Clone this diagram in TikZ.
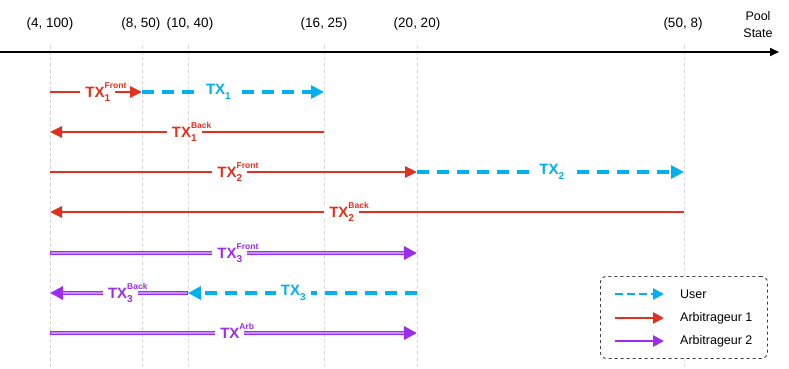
\documentclass[tikz,border=0pt]{standalone}
\usepackage{fontspec}
\setmainfont{Liberation Sans}
\usetikzlibrary{arrows.meta}
\definecolor{rd}{HTML}{E0301E}
\definecolor{bl}{HTML}{00B0F0}
\definecolor{pp}{HTML}{9B2CF0}
\definecolor{ppl}{HTML}{C98DF7}
\definecolor{gl}{HTML}{D9D9D9}
\newcommand\supsub[2]{\smash{\rlap{\raisebox{1.05ex}{\fontsize{8.5}{8.5}\selectfont #2}}\raisebox{-0.55ex}{\fontsize{10}{10}\selectfont #1}}\hspace{1.5pt}}
\newcommand\subonly[1]{\raisebox{-0.55ex}{\fontsize{10}{10}\selectfont #1}}
\newcommand\suponly[1]{\smash{\rlap{\raisebox{1.05ex}{\fontsize{8.5}{8.5}\selectfont #1}}}\hspace{8pt}}
\begin{document}
\begin{tikzpicture}[x=1pt,y=-1pt,
  tick/.style={font=\fontsize{13.5}{15}\selectfont, inner sep=0pt},
  guide/.style={draw=gl, line width=0.9pt, dash pattern=on 4pt off 2pt},
  lab/.style={fill=white, inner xsep=5pt, inner ysep=2pt, font=\fontsize{15}{17}\selectfont\bfseries},
  redarr/.style={draw=rd, line width=2.8pt, -{Triangle[length=12pt,width=11pt]}},
  bluarr/.style={draw=bl, line width=3.2pt, dash pattern=on 12pt off 8pt, -{Triangle[length=13pt,width=13pt]}},
  purarr/.style={draw=pp, line width=4pt, -{Triangle[length=13pt,width=13pt]},
     postaction={draw=ppl, line width=1.4pt, -, shorten >=13pt, shorten <=0.6pt}},
  legtext/.style={font=\fontsize{12.5}{14}\selectfont, anchor=west, inner sep=0pt}
]
\useasboundingbox (0,0) rectangle (789,369);
% axis
\coordinate (ax0) at (0,52);
\coordinate (ax1) at (779,52);
% guide lines
\foreach \n/\x in {a/50,b/142,c/188,d/324,e/417,f/684}{
  \coordinate (g\n t) at (\x,45);
  \coordinate (g\n b) at (\x,369);
  \draw[guide] (g\n t) -- (g\n b);
}
\draw[line width=1.6pt, -{Triangle[length=9pt,width=8pt]}] (ax0) -- (ax1);
% tick labels
\node[tick] (ta) at (50,24) {(4, 100)};
\node[tick] (tb) at (141,24) {(8, 50)};
\node[tick] (tc) at (190,24) {(10, 40)};
\node[tick] (td) at (324,24) {(16, 25)};
\node[tick] (te) at (417,24) {(20, 20)};
\node[tick] (tf) at (683,24) {(50, 8)};
\node[tick, align=center, font=\fontsize{12.5}{17}\selectfont] (pool) at (758,25) {Pool\\State};
% row coordinates
\foreach \r/\y in {1/92,2/132,3/172,4/212,5/253,6/293,7/333}{
  \coordinate (a\r) at (50,\y);
  \coordinate (b\r) at (142,\y);
  \coordinate (c\r) at (188,\y);
  \coordinate (d\r) at (324,\y);
  \coordinate (e\r) at (417,\y);
  \coordinate (f\r) at (684,\y);
}
% row 1
\draw[bluarr] (b1) -- node[lab, text=bl, pos=0.42] (l1u) {TX\subonly{1}} (d1);
\draw[redarr] (a1) -- node[lab, text=rd, pos=0.52] (l1f) {TX\supsub{1}{Front}} (b1);
% row 2
\draw[redarr] (d2) -- node[lab, text=rd, pos=0.51] (l1b) {TX\supsub{1}{Back}} (a2);
% row 3
\draw[bluarr] (e3) -- node[lab, text=bl, pos=0.505] (l2u) {TX\subonly{2}} (f3);
\draw[redarr] (a3) -- node[lab, text=rd, pos=0.49] (l2f) {TX\supsub{2}{Front}} (e3);
% row 4
\draw[redarr] (f4) -- node[lab, text=rd, pos=0.54] (l2b) {TX\supsub{2}{Back}} (a4);
% row 5
\draw[purarr] (a5) -- node[lab, text=pp, pos=0.49] (l3f) {TX\supsub{3}{Front}} (e5);
% row 6
\draw[bluarr] (e6) -- node[lab, text=bl, pos=0.54] (l3u) {TX\subonly{3}} (c6);
\draw[purarr] (c6) -- node[lab, text=pp, pos=0.49] (l3b) {TX\supsub{3}{Back}} (a6);
% row 7
\draw[purarr] (a7) -- node[lab, text=pp, pos=0.49] (larb) {TX\suponly{Arb}} (e7);
% legend
\node[draw=black!75, dashed, rounded corners=6pt, line width=0.9pt, minimum width=167pt, minimum height=82pt, fill=white, anchor=north west, inner sep=0pt] (leg) at (600,276) {};
\coordinate (lu0) at (615,294); \coordinate (lu1) at (664,294);
\coordinate (lr0) at (615,318); \coordinate (lr1) at (664,318);
\coordinate (lp0) at (615,341); \coordinate (lp1) at (664,341);
\draw[draw=bl, line width=2.6pt, dash pattern=on 8pt off 4pt, -{Triangle[length=11pt,width=11pt]}] (lu0) -- (lu1);
\draw[draw=rd, line width=2.6pt, -{Triangle[length=11pt,width=11pt]}] (lr0) -- (lr1);
\draw[draw=pp, line width=2.6pt, -{Triangle[length=11pt,width=11pt]}] (lp0) -- (lp1);
\node[legtext] (tu) at (680,294) {User};
\node[legtext] (tr) at (680,318) {Arbitrageur 1};
\node[legtext] (tp) at (680,341) {Arbitrageur 2};
\end{tikzpicture}
\end{document}
